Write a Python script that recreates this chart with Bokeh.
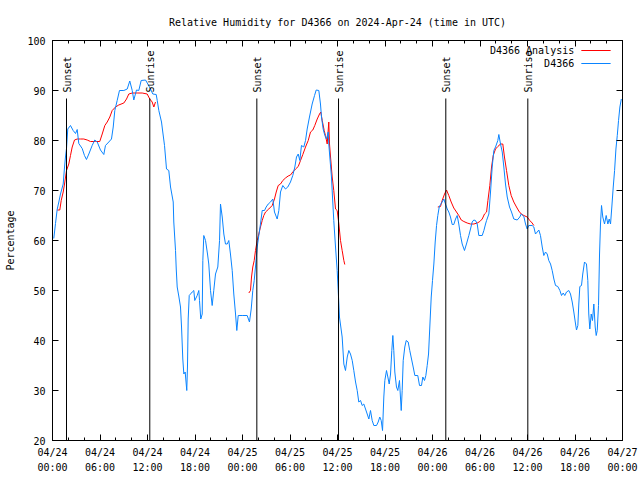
import math
from bokeh.plotting import figure
from bokeh.models import FixedTicker, LinearAxis, Range1d
from bokeh.core.properties import value
from bokeh.embed import file_html
from bokeh.resources import INLINE

FONT = "DejaVu Sans Mono"

title_text = "Relative Humidity for D4366 on 2024-Apr-24 (time in UTC)"
y_label = "Percentage"
obs_name = "D4366"
ana_name = "D4366 Analysis"

# x axis in hours since 2024-04-24 00:00 UTC
x_tick_hours = [0, 6, 12, 18, 24, 30, 36, 42, 48, 54, 60, 66, 72]
x_tick_labels = ["04/24\n00:00", "04/24\n06:00", "04/24\n12:00", "04/24\n18:00",
                 "04/25\n00:00", "04/25\n06:00", "04/25\n12:00", "04/25\n18:00",
                 "04/26\n00:00", "04/26\n06:00", "04/26\n12:00", "04/26\n18:00",
                 "04/27\n00:00"]
x_minor_hours = list(range(0, 73, 2))
y_ticks = [20, 30, 40, 50, 60, 70, 80, 90, 100]

sun_hours = [1.77, 12.29, 25.81, 36.13, 49.68, 60.04]
sun_labels = ["Sunset", "Sunrise", "Sunset", "Sunrise", "Sunset", "Sunrise"]

obs_hours = [0.16, 0.38, 0.59, 0.80, 1.01, 1.35, 1.52, 1.64, 1.77, 1.93, 2.27, 2.61, 2.91, 3.12, 3.32, 3.75,
             4.04, 4.29, 4.59, 5.01, 5.34, 5.65, 6.06, 6.48, 6.69, 7.11, 7.45, 7.67, 7.87, 8.17, 8.46, 9.01,
             9.44, 9.76, 10.07, 10.27, 10.61, 10.90, 11.20, 11.75, 12.04, 12.38, 12.67, 13.10, 13.23, 13.43,
             13.77, 13.93, 14.15, 14.40, 14.69, 14.91, 15.25, 15.32, 15.54, 15.63, 15.75, 15.95, 16.17, 16.30,
             16.46, 16.59, 16.76, 16.89, 16.96, 17.05, 17.14, 17.27, 17.65, 17.85, 17.97, 18.28, 18.48, 18.57,
             18.73, 18.91, 18.99, 19.11, 19.33, 19.58, 19.74, 19.96, 20.17, 20.37, 20.59, 20.88, 21.10, 21.22,
             21.44, 21.64, 21.85, 22.07, 22.27, 22.48, 22.70, 22.90, 23.12, 23.28, 23.46, 23.96, 24.59, 24.88,
             25.10, 25.30, 25.48, 25.64, 25.86, 26.06, 26.27, 26.49, 26.78, 26.99, 27.25, 27.54, 27.83, 28.04,
             28.38, 28.59, 28.80, 29.09, 29.43, 29.72, 30.06, 30.35, 30.61, 30.82, 31.04, 31.24, 31.45, 31.74,
             31.96, 32.17, 32.46, 32.80, 33.10, 33.31, 33.64, 33.85, 33.98, 34.19, 34.40, 34.61, 34.83, 34.90,
             35.03, 35.24, 35.37, 35.53, 35.75, 35.96, 36.09, 36.25, 36.59, 36.80, 37.01, 37.23, 37.43, 37.64,
             37.86, 38.06, 38.28, 38.49, 38.69, 38.91, 39.12, 39.32, 39.54, 39.75, 39.96, 40.17, 40.38, 40.59,
             40.93, 41.14, 41.34, 41.52, 41.69, 41.85, 41.98, 42.19, 42.36, 42.53, 42.70, 42.86, 42.99, 43.11,
             43.24, 43.45, 43.62, 43.83, 44.05, 44.17, 44.30, 44.50, 44.68, 44.93, 45.13, 45.35, 45.56, 45.77,
             46.14, 46.36, 46.61, 46.78, 46.99, 47.16, 47.33, 47.50, 47.66, 47.84, 48.00, 48.17, 48.34, 48.51,
             48.67, 48.85, 49.01, 49.22, 49.43, 49.64, 49.86, 50.06, 50.27, 50.49, 50.69, 50.91, 51.12, 51.32,
             51.54, 51.75, 52.04, 52.29, 52.59, 52.80, 53.01, 53.22, 53.43, 53.65, 53.85, 54.28, 54.49, 54.70,
             54.83, 55.12, 55.33, 55.54, 55.75, 55.96, 56.25, 56.38, 56.59, 56.81, 57.01, 57.22, 57.44, 57.73,
             57.98, 58.27, 58.70, 59.03, 59.21, 59.54, 59.75, 59.96, 60.16, 60.59, 60.80, 61.01, 61.23, 61.43,
             61.64, 61.86, 62.06, 62.28, 62.49, 62.69, 62.91, 63.12, 63.33, 63.54, 63.83, 64.09, 64.30, 64.51,
             64.71, 64.93, 65.22, 65.43, 65.65, 65.85, 66.07, 66.19, 66.36, 66.48, 66.61, 66.82, 66.98, 67.20,
             67.45, 67.62, 67.74, 67.87, 68.05, 68.21, 68.38, 68.55, 68.68, 68.81, 68.97, 69.10, 69.22, 69.35,
             69.51, 69.73, 69.94, 70.15, 70.32, 70.49, 70.65, 70.83, 71.00, 71.17, 71.34, 71.50, 71.67, 71.85]
obs_rh = [60.4, 63.4, 66.2, 67.7, 69.3, 71.3, 74.7, 76.7, 78.4, 82.3, 83.0, 82.0, 81.4, 82.2, 79.4, 78.4,
          77.0, 76.2, 77.3, 79.0, 80.1, 79.7, 78.1, 77.2, 79.0, 79.7, 80.3, 82.7, 86.0, 88.0, 90.0, 90.0,
          90.3, 91.9, 90.0, 88.1, 90.1, 90.0, 92.0, 92.1, 91.3, 90.3, 89.3, 89.2, 88.0, 86.0,
          83.7, 81.7, 79.0, 74.3, 74.0, 70.7, 67.7, 63.7, 58.0, 54.3, 50.7, 48.9, 46.7, 42.7,
          36.3, 33.3, 33.7, 31.3, 30.0, 34.7, 44.3, 49.0, 49.7, 50.0, 48.0, 49.0, 50.0, 48.0,
          44.3, 45.3, 56.0, 61.0, 60.0, 57.3, 55.3, 50.0, 47.0, 50.0, 53.3, 54.7, 60.0, 67.3,
          64.7, 61.3, 59.3, 59.3, 60.0, 57.3, 54.0, 49.3, 45.3, 42.0, 45.0, 45.0, 45.0, 43.7,
          46.3, 50.0, 52.0, 54.7, 58.7, 61.0, 63.3, 66.0, 66.0, 66.7, 67.3, 67.7, 68.3, 65.7,
          64.3, 66.0, 69.7, 71.0, 70.3, 70.7, 71.7, 73.0, 74.7, 76.7, 77.3, 76.0, 79.0, 78.7,
          80.0, 82.3, 84.7, 87.3, 89.0, 90.1, 90.0, 87.3, 84.7, 82.3, 81.0, 80.3, 81.7, 79.3,
          76.7, 72.7, 68.7, 64.0, 58.7, 54.0, 50.0, 44.7, 40.7, 35.3, 34.0, 36.7, 38.0, 37.3,
          36.0, 34.0, 31.7, 30.0, 27.7, 28.0, 27.0, 27.3, 26.3, 25.3, 24.3, 26.0, 24.0, 23.0,
          23.0, 23.7, 24.7, 24.0, 22.0, 28.7, 32.0, 34.0, 32.7, 31.3, 33.3, 38.0, 41.0, 38.0,
          33.7, 30.7, 30.0, 32.0, 26.0, 30.0, 36.0, 38.7, 40.0, 39.7, 38.0, 36.3, 34.7, 33.0,
          33.0, 31.0, 31.0, 32.7, 32.0, 33.0, 35.0, 37.3, 42.7, 48.7, 52.0, 55.3, 59.7, 63.0,
          65.0, 66.7, 67.2, 67.7, 68.3, 67.3, 66.3, 65.7, 64.7, 63.2, 63.2, 64.3, 65.0, 63.3,
          61.0, 59.3, 58.0, 59.3, 61.0, 62.3, 63.7, 64.1, 64.0, 63.3, 61.0, 61.0, 62.0, 63.3,
          64.0, 65.3, 69.7, 74.7, 78.0, 78.7, 80.0, 81.2, 79.3, 77.7, 74.7, 71.3, 68.7, 66.7,
          65.7, 64.3, 64.1, 64.7, 65.3, 64.8, 63.3, 62.3, 63.0, 63.0, 62.7, 61.3, 61.7, 62.1,
          61.0, 58.7, 57.0, 57.7, 57.3, 56.0, 55.3, 54.0, 52.3, 51.0, 50.8, 50.0, 49.0, 49.5,
          49.0, 49.7, 50.0, 49.3, 47.7, 45.7, 43.3, 42.1, 43.0, 47.3, 50.8, 51.0, 53.3, 55.7,
          55.3, 52.0, 45.3, 42.3, 45.3, 44.0, 47.3, 42.7, 41.0, 42.0, 47.0, 57.3, 63.3, 67.0,
          64.7, 63.3, 65.0, 63.3, 64.3, 63.3, 66.7, 70.7, 74.0, 78.3, 81.0, 84.0, 86.7, 88.3]

ana1_hours = [0.59, 0.92, 1.10, 1.35, 1.52, 1.77, 2.06, 2.27, 2.49, 2.78, 3.12, 3.54, 3.95, 4.38, 4.80,
              5.43, 5.97, 6.28, 6.61, 6.91, 7.24, 7.54, 7.96, 8.37, 9.01, 9.35, 9.64, 10.07, 10.70, 11.33,
              11.96, 12.29, 12.59, 12.80, 13.01]
ana1_rh = [66.1, 66.1, 68.0, 69.7, 71.3, 74.0, 75.3, 77.0, 78.7, 80.1, 80.3, 80.3, 80.3, 80.1, 79.8,
           79.8, 79.8, 81.3, 83.0, 83.7, 84.7, 86.0, 86.7, 87.1, 87.5, 88.3, 89.3, 89.5, 89.5, 89.5,
           89.3, 88.3, 87.7, 86.7, 87.7]
ana2_hours = [24.80, 25.01, 25.14, 25.30, 25.48, 25.64, 25.86, 26.06, 26.27, 26.49, 26.69, 26.91, 27.32,
              27.75, 28.04, 28.26, 28.51, 28.80, 29.09, 29.43, 29.77, 30.06, 30.35, 30.70, 31.04, 31.33,
              31.62, 31.96, 32.30, 32.59, 32.88, 33.13, 33.44, 33.73, 33.89, 34.07, 34.32, 34.48, 34.70,
              34.90, 34.99, 35.12, 35.33, 35.53, 35.75, 35.96, 36.17, 36.38, 36.59, 36.80, 36.92]
ana2_rh = [49.5, 50.0, 52.7, 54.7, 56.0, 58.0, 60.0, 61.3, 62.7, 64.0, 65.0, 65.7, 66.3,
           67.0, 68.3, 69.7, 71.0, 71.3, 72.0, 72.5, 72.9, 73.1, 73.7, 74.3, 74.8, 76.0,
           77.2, 78.7, 80.0, 81.7, 82.1, 83.0, 84.3, 85.3, 85.7, 84.0, 82.0, 81.0, 79.3,
           83.7, 79.3, 76.7, 72.7, 70.0, 66.3, 66.0, 63.3, 60.0, 58.0, 56.0, 55.2]
ana3_hours = [48.67, 49.01, 49.22, 49.52, 49.77, 50.06, 50.36, 50.69, 51.03, 51.32, 51.63, 51.96, 52.38,
              52.80, 53.22, 53.65, 53.98, 54.28, 54.57, 54.83, 55.00, 55.24, 55.46, 55.67, 55.96, 56.25,
              56.59, 56.88, 57.09, 57.35, 57.64, 57.94, 58.27, 58.61, 58.90, 59.21, 59.54, 59.96, 60.29,
              60.59, 60.80]
ana3_rh = [66.7, 66.8, 68.0, 69.3, 70.1, 69.0, 67.7, 66.5, 65.7, 65.0, 64.1, 63.8, 63.5,
           63.3, 63.3, 63.5, 63.8, 64.3, 65.3, 65.7, 68.0, 71.0, 74.7, 77.0, 78.3, 78.8,
           79.3, 79.3, 76.7, 74.0, 71.0, 69.0, 67.7, 66.7, 65.9, 65.3, 65.0, 64.7, 64.0,
           63.5, 63.0]

RED = "#ff0000"
BLUE = "#0a84ff"

p = figure(width=640, height=480, output_backend="svg", toolbar_location=None,
           x_range=Range1d(0, 72), y_range=Range1d(20, 100),
           min_border_left=52, min_border_right=18, min_border_top=40, min_border_bottom=40)
p.background_fill_color = "white"
p.border_fill_color = "white"
p.outline_line_color = "black"
p.outline_line_width = 1
p.xgrid.visible = False
p.ygrid.visible = False

p.title.text = title_text
p.title.align = "center"
p.title.vertical_align = "bottom"
p.title.text_font = FONT
p.title.text_font_size = "10px"
p.title.text_font_style = "normal"
p.title.text_color = "black"
p.title.standoff = 26

xt = FixedTicker(ticks=x_tick_hours, minor_ticks=x_minor_hours)
yt = FixedTicker(ticks=y_ticks, minor_ticks=[])


def style_axis(ax, ticker, show_labels, ticks):
    ax.ticker = ticker
    ax.axis_line_color = "black"
    ax.major_tick_line_color = "black"
    ax.minor_tick_line_color = "black"
    ax.major_tick_in = 6
    ax.major_tick_out = 0
    ax.minor_tick_in = 3
    ax.minor_tick_out = 0
    ax.major_label_text_font = FONT
    ax.major_label_text_font_size = "10px"
    ax.major_label_text_color = "black"
    if not show_labels:
        ax.major_label_overrides = {t: "" for t in ticks}
        ax.major_label_standoff = 0


xa = p.xaxis[0]
style_axis(xa, xt, True, x_tick_hours)
xa.major_label_overrides = {h: lab for h, lab in zip(x_tick_hours, x_tick_labels)}
xa.major_label_standoff = 6
xa.major_label_text_line_height = 1.4

ya = p.yaxis[0]
style_axis(ya, yt, True, y_ticks)
ya.major_label_standoff = 7
ya.axis_label = y_label
ya.axis_label_text_font = FONT
ya.axis_label_text_font_size = "10px"
ya.axis_label_text_font_style = "normal"
ya.axis_label_text_color = "black"
ya.axis_label_standoff = 8

top_axis = LinearAxis()
style_axis(top_axis, xt, False, x_tick_hours)
p.add_layout(top_axis, "above")
right_axis = LinearAxis()
style_axis(right_axis, yt, False, y_ticks)
p.add_layout(right_axis, "right")

# data lines
for hrs, rh in [(ana1_hours, ana1_rh), (ana2_hours, ana2_rh), (ana3_hours, ana3_rh)]:
    p.line(hrs, rh, line_color=RED, line_width=1)
p.line(obs_hours, obs_rh, line_color=BLUE, line_width=1)

# sunrise / sunset markers
SUN_LINE_TOP = 88.4
SUN_TEXT_Y = 89.6
p.segment(x0=sun_hours, y0=[20] * len(sun_hours), x1=sun_hours, y1=[SUN_LINE_TOP] * len(sun_hours),
          line_color="black", line_width=1)
p.text(x=sun_hours, y=[SUN_TEXT_Y] * len(sun_hours), text=sun_labels,
       angle=math.pi / 2, text_align="left", text_baseline="middle", x_offset=1,
       text_font=value(FONT), text_font_size="10px", text_color="black")

# legend (gnuplot style: text right-aligned, sample line to the right)
LEG_TEXT_X = 65.9
LEG_LINE_X0, LEG_LINE_X1 = 66.8, 70.5
LEG_Y = [98.0, 95.4]
p.text(x=[LEG_TEXT_X, LEG_TEXT_X], y=LEG_Y, text=[ana_name, obs_name], text_align="right",
       text_baseline="middle", text_font=value(FONT), text_font_size="10px", text_color="black")
p.segment(x0=[LEG_LINE_X0] * 2, y0=LEG_Y, x1=[LEG_LINE_X1] * 2, y1=LEG_Y,
          line_color=[RED, BLUE], line_width=1)

open("out.html", "w").write(file_html(p, INLINE))
